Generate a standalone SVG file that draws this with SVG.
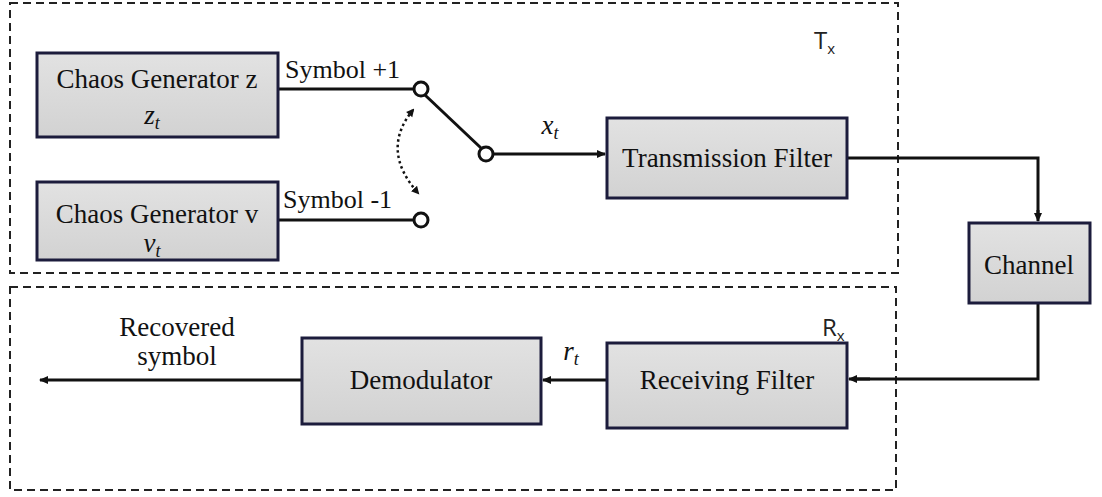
<svg xmlns="http://www.w3.org/2000/svg" width="1102" height="497" viewBox="0 0 1102 497">
<style>
.box{fill:url(#g);stroke:#1c1c3c;stroke-width:3}
.lbl{font-family:"Liberation Serif",serif;font-size:27px;fill:#111;text-anchor:middle}
.sym{font-family:"Liberation Serif",serif;font-size:26px;fill:#111}
.m{font-family:"Liberation Serif",serif;font-style:italic;font-size:27px;fill:#111;text-anchor:middle}
.sub{font-size:18px}
.reg{fill:none;stroke:#222;stroke-width:2;stroke-dasharray:8 5}
.ws{font-family:"Open Sans","DejaVu Sans",sans-serif;font-size:24px;fill:#222}
.ln{fill:none;stroke:#111;stroke-width:3}
.arr{fill:none;stroke:#111;stroke-width:3;marker-end:url(#ah)}
.sw{fill:#fff;stroke:#111;stroke-width:3}
</style>
<defs>
<linearGradient id="g" x1="0" y1="0" x2="0" y2="1">
<stop offset="0" stop-color="#e2e2e2"/>
<stop offset="1" stop-color="#d2d2d2"/>
</linearGradient>
<marker id="ah" markerWidth="10" markerHeight="10" refX="8" refY="5" orient="auto" markerUnits="userSpaceOnUse">
<path d="M0,1 L9,5 L0,9 Z" fill="#111"/>
</marker>
<marker id="dh" markerWidth="10" markerHeight="10" refX="6" refY="5" orient="auto" markerUnits="userSpaceOnUse">
<path d="M0,1 L8,5 L0,9 Z" fill="#111"/>
</marker>
<marker id="dhs" markerWidth="10" markerHeight="10" refX="2" refY="5" orient="auto" markerUnits="userSpaceOnUse">
<path d="M8,1 L0,5 L8,9 Z" fill="#111"/>
</marker>
</defs>
<rect width="1102" height="497" fill="#fff"/>
<g id="regions">
<rect class="reg" x="10" y="3" width="888" height="270"/>
<text class="ws" x="814" y="49">T<tspan font-size="15" dy="5">x</tspan></text>
<rect class="reg" x="10" y="287" width="886" height="203"/>
<text class="ws" x="822" y="336">R<tspan font-size="15" dy="5">x</tspan></text>
</g>
<g id="connectors">
<line class="ln" x1="278" y1="89" x2="414" y2="89"/>
<line class="ln" x1="278" y1="220" x2="414" y2="220"/>
<line class="ln" x1="425" y1="95" x2="481" y2="148"/>
<line class="arr" x1="493" y1="154" x2="605" y2="154"/>
<polyline class="ln" points="847,158 1038,158 1038,214"/>
<path d="M1038,210 L1038,221" class="arr"/>
<polyline class="ln" points="1038,303 1038,379 856,379"/>
<line class="arr" x1="870" y1="379" x2="849" y2="379"/>
<line class="arr" x1="607" y1="380" x2="543" y2="380"/>
<line class="arr" x1="302" y1="380" x2="40" y2="380"/>
<path d="M413,110 Q380,150 418,193" fill="none" stroke="#111" stroke-width="2.5" stroke-dasharray="2.5 3" marker-end="url(#dh)" marker-start="url(#dhs)"/>
<circle class="sw" cx="421" cy="89" r="7"/>
<circle class="sw" cx="486" cy="154" r="7"/>
<circle class="sw" cx="421" cy="220" r="7"/>
<text class="sym" x="285" y="78">Symbol +1</text>
<text class="sym" x="283" y="208">Symbol -1</text>
<text class="m" x="550" y="134">x<tspan class="sub" dy="5">t</tspan></text>
<text class="m" x="571" y="360">r<tspan class="sub" dy="5">t</tspan></text>
<text class="lbl" x="177" y="336">Recovered</text>
<text class="lbl" x="177" y="365">symbol</text>
</g>
<g id="chaos-z">
<rect class="box" x="37" y="53" width="241" height="84"/>
<text class="lbl" x="157" y="88">Chaos Generator z</text>
<text class="m" x="152" y="124">z<tspan class="sub" dy="5">t</tspan></text>
</g>
<g id="chaos-v">
<rect class="box" x="37" y="182" width="241" height="78"/>
<text class="lbl" x="157" y="223">Chaos Generator v</text>
<text class="m" x="152" y="252">v<tspan class="sub" dy="5">t</tspan></text>
</g>
<g id="tx-filter">
<rect class="box" x="607" y="118" width="240" height="80"/>
<text class="lbl" x="727" y="167">Transmission Filter</text>
</g>
<g id="channel">
<rect class="box" x="969" y="223" width="121" height="80"/>
<text class="lbl" x="1029" y="274">Channel</text>
</g>
<g id="rx-filter">
<rect class="box" x="607" y="343" width="240" height="85"/>
<text class="lbl" x="727" y="389">Receiving Filter</text>
</g>
<g id="demodulator">
<rect class="box" x="302" y="338" width="239" height="86"/>
<text class="lbl" x="421" y="389">Demodulator</text>
</g>
</svg>
